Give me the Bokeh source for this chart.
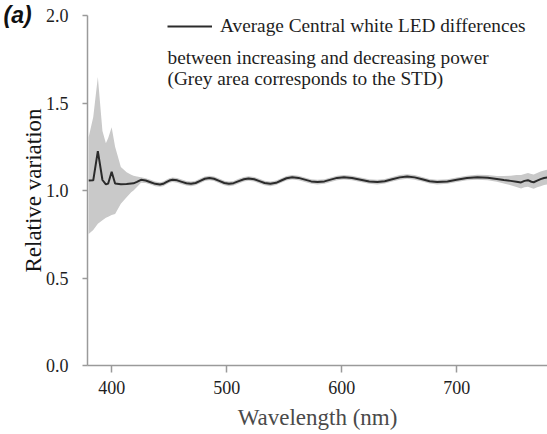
from bokeh.plotting import figure
from bokeh.models import Range1d, Label, Legend, LegendItem, FixedTicker, CustomJSTickFormatter
from bokeh.embed import file_html
from bokeh.resources import INLINE

# ---- data ----
wavelength = [380, 384, 388, 392, 395, 397, 400, 403, 408, 413, 417, 419,
              422, 425.5, 429.6, 433.8, 437.9, 442,
              444.8, 447.5, 450.2, 453,
              457, 461, 465, 469,
              473, 477, 481, 485,
              489, 493.5, 498, 502,
              506, 510.5, 515, 519,
              524, 528.5, 533, 538,
              543, 547.5, 552, 557,
              562.5, 568, 573.5, 579,
              585, 590.5, 596, 602,
              609, 616.5, 624, 631,
              637.5, 644, 650.5, 657,
              663.5, 670, 676.5, 683,
              692, 700, 709, 718,
              727, 735, 741, 747, 752, 756, 759, 762, 765, 767, 770, 773, 776, 779]
mean_variation = [1.057, 1.058, 1.225, 1.060, 1.035, 1.040, 1.107, 1.040, 1.036, 1.037, 1.040, 1.041,
                  1.049, 1.061, 1.057, 1.0475, 1.038, 1.034,
                  1.038, 1.0475, 1.057, 1.061,
                  1.058, 1.0495, 1.041, 1.038,
                  1.043, 1.055, 1.067, 1.072,
                  1.067, 1.055, 1.043, 1.038,
                  1.042, 1.0535, 1.064, 1.069,
                  1.064, 1.0535, 1.043, 1.038,
                  1.044, 1.057, 1.070, 1.076,
                  1.072, 1.062, 1.052, 1.048,
                  1.052, 1.062, 1.072, 1.076,
                  1.072, 1.062, 1.052, 1.048,
                  1.053, 1.064, 1.075, 1.080,
                  1.075, 1.064, 1.053, 1.048,
                  1.052, 1.061, 1.071, 1.076,
                  1.073, 1.066, 1.060, 1.055, 1.050, 1.046, 1.055, 1.059, 1.050, 1.047, 1.056, 1.065, 1.071, 1.075]
std_upper = [1.305, 1.420, 1.648, 1.340, 1.270, 1.300, 1.362, 1.250, 1.135, 1.105, 1.090, 1.085,
             1.080, 1.076, 1.070, 1.061, 1.051, 1.047,
             1.051, 1.061, 1.070, 1.074,
             1.071, 1.063, 1.054, 1.051,
             1.056, 1.068, 1.080, 1.085,
             1.080, 1.068, 1.056, 1.051,
             1.055, 1.067, 1.077, 1.082,
             1.077, 1.067, 1.056, 1.051,
             1.057, 1.070, 1.083, 1.089,
             1.085, 1.075, 1.065, 1.061,
             1.065, 1.075, 1.085, 1.089,
             1.085, 1.075, 1.065, 1.061,
             1.066, 1.077, 1.088, 1.093,
             1.088, 1.077, 1.066, 1.061,
             1.065, 1.074, 1.084, 1.090,
             1.088, 1.083, 1.083, 1.085, 1.088, 1.088, 1.095, 1.100, 1.095, 1.092, 1.100, 1.108, 1.115, 1.120]
std_lower = [0.752, 0.775, 0.810, 0.830, 0.845, 0.850, 0.860, 0.866, 0.924, 0.962, 0.990, 1.000,
             1.020, 1.045, 1.043, 1.034, 1.025, 1.021,
             1.025, 1.034, 1.044, 1.048,
             1.045, 1.036, 1.028, 1.025,
             1.030, 1.042, 1.054, 1.059,
             1.054, 1.042, 1.030, 1.025,
             1.029, 1.040, 1.051, 1.056,
             1.051, 1.040, 1.030, 1.025,
             1.031, 1.044, 1.057, 1.063,
             1.059, 1.049, 1.039, 1.035,
             1.039, 1.049, 1.059, 1.063,
             1.059, 1.049, 1.039, 1.035,
             1.040, 1.051, 1.062, 1.067,
             1.062, 1.051, 1.040, 1.035,
             1.039, 1.048, 1.058, 1.062,
             1.058, 1.050, 1.040, 1.030, 1.020, 1.012, 1.018, 1.022, 1.015, 1.010, 1.018, 1.025, 1.032, 1.035]
x_ticks = [400, 500, 600, 700]
y_ticks = [0.0, 0.5, 1.0, 1.5, 2.0]

SERIF = "Liberation Serif"

p = figure(width=547, height=434, output_backend="svg", toolbar_location=None,
           x_range=Range1d(379, 779), y_range=Range1d(0, 2.0))
p.min_border_left = 87
p.min_border_right = 0
p.min_border_top = 15
p.min_border_bottom = 69
p.outline_line_color = None
p.grid.visible = False
p.background_fill_color = "white"
p.border_fill_color = "white"

# panel tag "(a)" as the plot title, pulled to the top-left corner
p.title.text = "(a)"
p.title.align = "left"
p.title.offset = -84
p.title.standoff = -24
p.title.text_font = "Liberation Sans"
p.title.text_font_size = "23px"
p.title.text_font_style = "bold italic"
p.title.text_color = "#111111"

band = p.varea(x=wavelength, y1=std_lower, y2=std_upper, fill_color="#c9c9c9")
line = p.line(wavelength, mean_variation, line_color="#2b2b2b", line_width=2)

for ax in (p.xaxis[0], p.yaxis[0]):
    ax.axis_line_color = "#9a9a9a"
    ax.axis_line_width = 1.5
    ax.major_tick_line_color = "#9a9a9a"
    ax.major_tick_line_width = 1.5
    ax.minor_tick_line_color = None
    ax.major_tick_in = 0
    ax.major_label_text_font = SERIF
    ax.major_label_text_font_size = "18px"
    ax.major_label_text_color = "#1e1e1e"
    ax.axis_label_text_font = SERIF
    ax.axis_label_text_font_size = "23px"
    ax.axis_label_text_font_style = "normal"

p.xaxis[0].ticker = FixedTicker(ticks=x_ticks)
p.yaxis[0].ticker = FixedTicker(ticks=y_ticks)
p.yaxis[0].formatter = CustomJSTickFormatter(code="return tick.toFixed(1);")
p.xaxis[0].major_tick_out = 7
p.yaxis[0].major_tick_out = 5
p.xaxis[0].major_label_standoff = 8
p.yaxis[0].major_label_standoff = 14
p.xaxis[0].axis_label = "Wavelength (nm)"
p.yaxis[0].axis_label = "Relative variation"
p.xaxis[0].axis_label_text_color = "#4a4a4a"
p.yaxis[0].axis_label_text_color = "#151515"
p.xaxis[0].axis_label_standoff = 8
p.yaxis[0].axis_label_standoff = -3

legend = Legend(items=[LegendItem(label="Average Central white LED differences", renderers=[line])],
                location=(80, 328), padding=0, margin=0, spacing=0,
                glyph_width=45, glyph_height=16, label_height=16, label_standoff=8,
                label_text_font=SERIF, label_text_font_size="19.3px", label_text_color="#1e1e1e",
                border_line_color=None, background_fill_alpha=0)
p.add_layout(legend)

for txt, yy in [("between increasing and decreasing power", 308),
                ("(Grey area corresponds to the STD)", 287)]:
    p.add_layout(Label(x=80, y=yy, x_units="screen", y_units="screen", text=txt,
                       text_font=SERIF, text_font_size="19.3px", text_color="#1e1e1e",
                       text_baseline="alphabetic", text_align="left"))

open("out.html", "w").write(file_html(p, INLINE))
